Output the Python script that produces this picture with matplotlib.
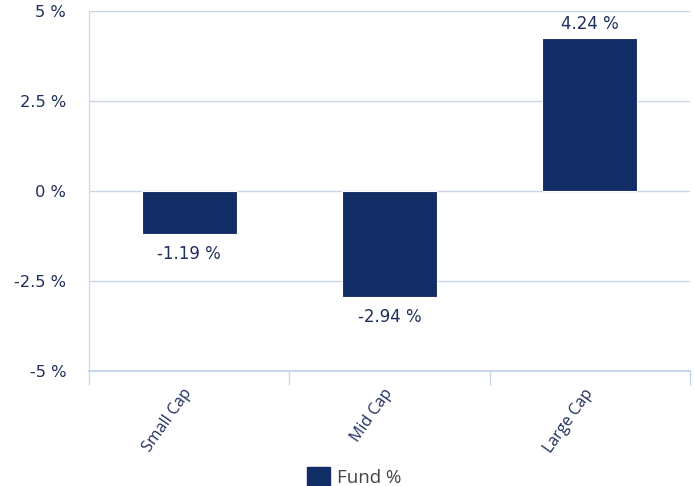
import matplotlib
matplotlib.use("Agg")
import matplotlib.pyplot as plt
from matplotlib.patches import Patch
import numpy as np

categories = ["Small Cap", "Mid Cap", "Large Cap"]
values = [-1.19, -2.94, 4.24]
yticks = [-5, -2.5, 0, 2.5, 5]
ytick_labels = ["-5 %", "-2.5 %", "0 %", "2.5 %", "5 %"]
series_name = "Fund %"

bar_color = "#122c66"
text_color = "#1f2f5c"
grid_color = "#c8d5ea"

plt.rcParams['font.family'] = ['DejaVu Sans']
fig = plt.figure(figsize=(6.95, 4.86), dpi=100)
ax = fig.add_axes([89/695, 1-371/486, 601/695, 360/486])

x = np.arange(len(categories))
ax.bar(x, values, width=0.475, color=bar_color, edgecolor="white", linewidth=0.8, zorder=3)

ax.set_xlim(-0.5, len(categories) - 0.5)
ax.set_ylim(-5, 5)
ax.set_yticks(yticks)
ax.set_yticklabels(ytick_labels, fontsize=11.7, color=text_color)
ax.tick_params(axis='y', length=0, pad=16.5)
ax.yaxis.grid(True, color=grid_color, linewidth=1, zorder=0)

# category boundaries as major ticks, labels at centers as minor ticks
ax.set_xticks(np.arange(-0.5, len(categories)), labels=[""] * (len(categories) + 1))
ax.tick_params(axis='x', which='major', length=10, color=grid_color, width=1)
ax.set_xticks(x, minor=True)
ax.set_xticklabels(categories, minor=True, rotation=55, ha='right', va='center',
                   rotation_mode='anchor', fontsize=11.5, color=text_color,
                   family=['Open Sans', 'DejaVu Sans'])
ax.tick_params(axis='x', which='minor', length=0, pad=14)

for s in ['top', 'right']:
    ax.spines[s].set_visible(False)
ax.spines['left'].set_color(grid_color)
ax.spines['bottom'].set_color(grid_color)
ax.spines['bottom'].set_linewidth(1.5)

for xi, v in zip(x, values):
    if v >= 0:
        ax.annotate(f"{v:.2f} %", (xi, v), xytext=(0, 3.5), textcoords='offset points',
                    ha='center', va='bottom', fontsize=12, color=text_color)
    else:
        ax.annotate(f"{v:.2f} %", (xi, v), xytext=(0, -8), textcoords='offset points',
                    ha='center', va='top', fontsize=12, color=text_color)

handle = Patch(facecolor=bar_color, edgecolor=bar_color)
fig.legend([handle], [series_name], loc='center', bbox_to_anchor=(354/695, 1-477/486),
           frameon=False, prop={'family': ['Open Sans', 'DejaVu Sans'], 'size': 13.5},
           labelcolor="#444444",
           handlelength=1.25, handleheight=1.25, handletextpad=0.35)

fig.savefig("out.png", dpi=100)
